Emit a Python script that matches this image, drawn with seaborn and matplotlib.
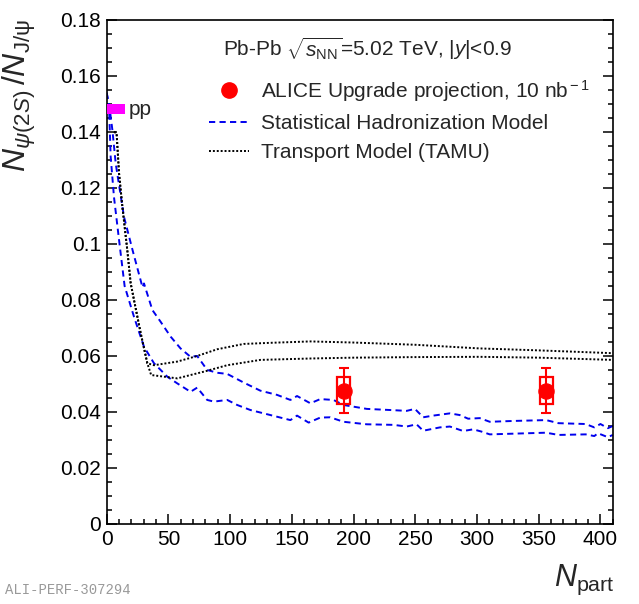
import numpy as np
import pandas as pd
import matplotlib
matplotlib.use("Agg")
import matplotlib.pyplot as plt
from matplotlib.lines import Line2D
from matplotlib.patches import Rectangle
import seaborn as sns

# ---------------- data ----------------
shm_hi_x = [0, 2.5, 4.6, 7.3, 14, 21, 29, 30.2, 37, 43.7, 51.8, 59.8, 67.9, 73.3, 81.4, 89.5, 97.6,
            111, 124.5, 138, 148.8, 154.2, 165, 173, 183.7, 191.8, 210.7, 229.5, 243, 249.7,
            256.4, 264.5, 278, 286, 292.8, 302.2, 310.3, 330, 356, 366, 388, 395, 400, 406, 410]
shm_hi_y = [0.154, 0.148, 0.1407, 0.1287, 0.1097, 0.0977, 0.0845, 0.0859, 0.0764, 0.0722, 0.0669,
            0.0627, 0.0597, 0.0600, 0.0550, 0.0540, 0.0536, 0.0505, 0.0476, 0.0461, 0.0443,
            0.0457, 0.0431, 0.0446, 0.0443, 0.0425, 0.0411, 0.0407, 0.0404, 0.0411, 0.0381,
            0.0387, 0.0395, 0.0389, 0.0376, 0.0378, 0.0365, 0.0368, 0.0371, 0.0360, 0.0357,
            0.0345, 0.0357, 0.0342, 0.0350]

shm_lo_x = [0, 1.9, 3.2, 5.9, 10, 14.5, 22.1, 30.2, 38.3, 49.1, 57.2, 67.9, 73.3, 81.4, 86.8, 97.6,
            105.7, 116.4, 127.2, 138, 148.8, 154.2, 163.6, 173, 181, 191.8, 210.7, 232.2, 243,
            251, 256.4, 270, 278, 288.8, 296.9, 303.6, 310.3, 356, 366, 388, 395, 398, 406, 410]
shm_lo_y = [0.154, 0.1487, 0.1312, 0.1167, 0.1014, 0.0850, 0.0740, 0.0633, 0.0574, 0.0526, 0.0502,
            0.0472, 0.0487, 0.0443, 0.0437, 0.0443, 0.0425, 0.0407, 0.0395, 0.0383, 0.0371,
            0.0387, 0.0362, 0.0380, 0.0381, 0.0365, 0.0356, 0.0354, 0.0348, 0.0356, 0.0333,
            0.0345, 0.0348, 0.0332, 0.0338, 0.0330, 0.0320, 0.0326, 0.0318, 0.0320, 0.0314,
            0.0324, 0.0310, 0.0318]

tamu_hi_x = [6, 8, 10, 12.7, 16.7, 19.4, 22.1, 27.5, 32.9, 38.3, 57.2, 73.3, 89.5, 111, 132.6, 165,
             200, 250, 302, 350, 410]
tamu_hi_y = [0.1401, 0.1395, 0.1252, 0.1133, 0.0977, 0.0860, 0.0800, 0.0682, 0.0574, 0.0567,
             0.0580, 0.0600, 0.0624, 0.0643, 0.0647, 0.0652, 0.0648, 0.0640, 0.0627, 0.0620, 0.0610]

tamu_lo_x = [6, 8, 10, 12.7, 16.7, 19.4, 22.1, 27.5, 32.9, 36, 57.2, 78.7, 97.6, 124.5, 165, 200,
             250, 302, 350, 410]
tamu_lo_y = [0.1401, 0.1395, 0.1252, 0.1133, 0.0977, 0.0860, 0.0800, 0.0682, 0.0574, 0.0532,
             0.0520, 0.0544, 0.0567, 0.0586, 0.0591, 0.0594, 0.0596, 0.0597, 0.0594, 0.0586]

proj_x = [192, 356]
proj_y = [0.0476, 0.0476]
proj_stat = [0.0080, 0.0080]
proj_syst = [0.0048, 0.0048]
proj_box_halfwidth = 5.3

pp_x = [0, 15]
pp_y = 0.1482
pp_err = 0.0018

# ---------------- style ----------------
sns.set_theme(style="ticks")
plt.rcParams['font.family'] = ['Liberation Sans', 'DejaVu Sans']
plt.rcParams['mathtext.fontset'] = 'custom'
plt.rcParams['mathtext.rm'] = 'Liberation Sans'
plt.rcParams['mathtext.it'] = 'Liberation Sans:italic'
plt.rcParams['mathtext.bf'] = 'Liberation Sans:bold'
plt.rcParams['axes.linewidth'] = 1.2

fig = plt.figure(figsize=(6.39, 6.04), dpi=100)
ax = fig.add_axes([0.167, 0.1325, 0.792, 0.8344])

df_models = pd.concat([
    pd.DataFrame({'x': shm_hi_x, 'y': shm_hi_y, 'curve': 'shm_hi'}),
    pd.DataFrame({'x': shm_lo_x, 'y': shm_lo_y, 'curve': 'shm_lo'}),
    pd.DataFrame({'x': tamu_hi_x, 'y': tamu_hi_y, 'curve': 'tamu_hi'}),
    pd.DataFrame({'x': tamu_lo_x, 'y': tamu_lo_y, 'curve': 'tamu_lo'}),
])

shm_ls = (0, (3.2, 2.2))
tamu_ls = (0, (1, 1))
for name, color, ls in [('shm_hi', '#0000ee', shm_ls), ('shm_lo', '#0000ee', shm_ls),
                        ('tamu_hi', 'black', tamu_ls), ('tamu_lo', 'black', tamu_ls)]:
    sub = df_models[df_models.curve == name]
    sns.lineplot(data=sub, x='x', y='y', ax=ax, color=color, lw=1.4, linestyle=ls,
                 sort=False, estimator=None, legend=False)

# pp reference box
ax.fill_between(pp_x, pp_y - pp_err, pp_y + pp_err, color='#ff00ff', lw=0, zorder=5)
ax.text(pp_x[1] + 2.5, pp_y, 'pp', fontsize=15, va='center', ha='left')

# projection points: systematic boxes, stat errors, markers
for x, y, s in zip(proj_x, proj_y, proj_syst):
    ax.add_patch(Rectangle((x - proj_box_halfwidth, y - s), 2 * proj_box_halfwidth, 2 * s,
                           fill=False, edgecolor='red', lw=1.6, zorder=6))
ax.errorbar(proj_x, proj_y, yerr=proj_stat, fmt='none', ecolor='red', elinewidth=1.5,
            capsize=3.5, capthick=1.5, zorder=7)
sns.scatterplot(x=proj_x, y=proj_y, ax=ax, color='red', s=120, edgecolor='red', zorder=8,
                legend=False)

# axes
ax.set_xlim(0, 410)
ax.set_ylim(0, 0.18)
ax.set_xlabel('')
ax.set_ylabel('')
ax.set_xticks(np.arange(0, 401, 50))
ax.set_yticks(np.arange(0, 0.181, 0.02))
ax.set_yticklabels(['0', '0.02', '0.04', '0.06', '0.08', '0.1', '0.12', '0.14', '0.16', '0.18'])
ax.xaxis.set_minor_locator(matplotlib.ticker.MultipleLocator(10))
ax.yaxis.set_minor_locator(matplotlib.ticker.MultipleLocator(0.005))
ax.tick_params(which='both', direction='in', right=True, top=False, labelsize=15, width=1.1,
               color='black', labelcolor='black')
ax.tick_params(which='major', length=7.5, pad=4)
ax.tick_params(which='minor', length=3.8)
for sp in ax.spines.values():
    sp.set_visible(True)
    sp.set_color('black')

# legend
ax.text(0.229, 0.944, r'Pb-Pb $\sqrt{s_{\rm NN}}$=5.02 TeV, |$y$|<0.9', transform=ax.transAxes,
        fontsize=15, ha='left', va='center')
handles = [
    Line2D([], [], marker='o', color='red', ls='none', markersize=11),
    Line2D([], [], color='#0000ee', lw=1.4, linestyle=shm_ls),
    Line2D([], [], color='black', lw=1.4, linestyle=tamu_ls),
]
labels = [r'ALICE Upgrade projection, 10 nb$^{\rm -1}$', 'Statistical Hadronization Model',
          'Transport Model (TAMU)']
ax.legend(handles, labels, loc='upper left', bbox_to_anchor=(0.185, 0.902), frameon=False,
          fontsize=15, handlelength=1.95, handletextpad=0.58, labelspacing=0.5, borderaxespad=0,
          borderpad=0.4)

# axis titles
fig.text(0.03, 0.968, r'$N_{\psi(2S)}\,/N_{\rm J/\psi}$', rotation=90, fontsize=23,
         ha='center', va='top')
fig.text(0.962, 0.03, r'$N_{\rm part}$', fontsize=22, ha='right', va='baseline')

fig.text(0.008, 0.012, 'ALI-PERF-307294', fontsize=10, color='#999999',
         family='Liberation Mono', ha='left', va='bottom')

fig.savefig('out.png', dpi=100)
